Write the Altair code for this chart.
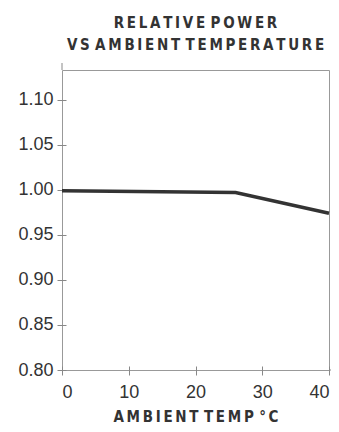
import altair as alt
import pandas as pd

temps = [0, 26, 40]
power = [0.999, 0.997, 0.974]
y_ticks = [0.80, 0.85, 0.90, 0.95, 1.00, 1.05, 1.10]
x_ticks = [0, 10, 20, 30, 40]

T = "\u2009"
def spaced(s):
    return (T + T).join(T.join(list(w)) for w in s.split(" "))

title_lines = [spaced("RELATIVE POWER"), spaced("VS AMBIENT TEMPERATURE")]
x_title = spaced("AMBIENT TEMP °C")
COND = "DejaVu Sans Condensed, Roboto Condensed, Roboto, sans-serif"

df = pd.DataFrame({"temp": temps, "power": power})

line = alt.Chart(df).mark_line(color="#333333", strokeWidth=3.5).encode(
    x=alt.X("temp:Q", scale=alt.Scale(domain=[0, 40], nice=False),
            axis=alt.Axis(values=x_ticks, format="d", title=x_title, grid=False,
                          domain=False, offset=-4, tickSize=9, tickColor="#888888",
                          labelFontSize=18, labelFont="Liberation Sans", labelColor="#333333",
                          labelPadding=8, titleFont=COND, titleFontWeight="bold",
                          titleFontSize=15, titleColor="#333333", titlePadding=8)),
    y=alt.Y("power:Q", scale=alt.Scale(domain=[0.80, 1.133], nice=False, zero=False),
            axis=alt.Axis(values=y_ticks, format=".2f", title=None, grid=False,
                          domain=False, offset=-4, tickSize=9, tickColor="#888888",
                          labelFontSize=18, labelFont="Liberation Sans", labelColor="#333333",
                          labelPadding=4)),
)

ext_y = alt.Chart(alt.Data(values=[{}])).mark_rule(color="#888888", strokeWidth=1).encode(
    x=alt.value(0), y=alt.value(-7), y2=alt.value(0))
ext_x = alt.Chart(alt.Data(values=[{}])).mark_rule(color="#888888", strokeWidth=1).encode(
    x=alt.value(267), x2=alt.value(271), y=alt.value(300))

chart = alt.layer(line, ext_y, ext_x).properties(
    width=267, height=300,
    autosize=alt.AutoSizeParams(type="none"),
    padding={"left": 54, "top": 62, "right": 2, "bottom": 54},
    title=alt.TitleParams(text=title_lines, font=COND, fontWeight="bold",
                          fontSize=15, color="#333333", lineHeight=22, offset=10, anchor="middle"),
).configure_view(stroke="#999999", strokeWidth=1)

chart.save("out.html", embed_options={"renderer": "svg", "actions": False})
